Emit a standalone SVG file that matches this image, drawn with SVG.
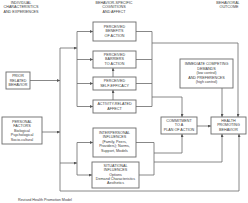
<svg xmlns="http://www.w3.org/2000/svg" width="248" height="203" viewBox="0 0 248 203">
<defs>
<style>
.box{fill:#fff;stroke:#6a6a6a;stroke-width:0.9}
.t{font-family:"Liberation Sans",Arial,sans-serif;font-size:3.7px;fill:#3a3a3a;text-anchor:middle}
.c{fill:none;stroke:#6a6a6a;stroke-width:0.8}
</style>
<marker id="a" viewBox="0 0 6 6" refX="6" refY="3" markerWidth="3" markerHeight="3" markerUnits="userSpaceOnUse" orient="auto"><path d="M0,0L6,3L0,6z" fill="#555"/></marker>
</defs>
<rect width="248" height="203" fill="#fff"/>
<g id="headers">
<text class="t" x="21" y="4">INDIVIDUAL</text>
<text class="t" x="21" y="8.3">CHARACTERISTICS</text>
<text class="t" x="21" y="12.6">AND EXPERIENCES</text>
<text class="t" x="114" y="4">BEHAVIOR-SPECIFIC</text>
<text class="t" x="114" y="8.3">COGNITIONS</text>
<text class="t" x="114" y="12.6">AND AFFECT</text>
<text class="t" x="228" y="4">BEHAVIORAL</text>
<text class="t" x="229" y="8.3">OUTCOME</text>
</g>
<g id="connectors">
<path class="c" d="M30,80.5H60" marker-end="url(#a)"/>
<path class="c" d="M42,132H60" marker-end="url(#a)"/>
<path class="c" d="M60,48V191H239V134" marker-end="url(#a)"/>
<path class="c" d="M60,48H77" marker-end="url(#a)"/>
<path class="c" d="M77,31.5V106.5"/>
<path class="c" d="M77,31.5H93" marker-end="url(#a)"/>
<path class="c" d="M77,59.5H93" marker-end="url(#a)"/>
<path class="c" d="M77,83.5H93" marker-end="url(#a)"/>
<path class="c" d="M77,106.5H93" marker-end="url(#a)"/>
<path class="c" d="M136,31.5H152M136,59.5H152M136,83.5H152M136,106.5H152M152,31.5V106.5"/>
<path class="c" d="M152,43H238V117" marker-end="url(#a)"/>
<path class="c" d="M152,97H182V117" marker-end="url(#a)"/>
<path class="c" d="M113,77V68" marker-end="url(#a)"/>
<path class="c" d="M113,100V90" marker-end="url(#a)"/>
<path class="c" d="M222,88V117" marker-end="url(#a)"/>
<path class="c" d="M197,126H211" marker-end="url(#a)"/>
<path class="c" d="M60,163H77" marker-end="url(#a)"/>
<path class="c" d="M77,142.5V175"/>
<path class="c" d="M77,142.5H93" marker-end="url(#a)"/>
<path class="c" d="M77,175H92" marker-end="url(#a)"/>
<path class="c" d="M136,142.5H154M139,175H154M154,142.5V175"/>
<path class="c" d="M154,153H182V134" marker-end="url(#a)"/>
<path class="c" d="M154,162H222V134" marker-end="url(#a)"/>
</g>
<g id="prior">
<rect class="box" x="6" y="72" width="24" height="17"/>
<text class="t" x="18" y="77">PRIOR</text>
<text class="t" x="18" y="81.5">RELATED</text>
<text class="t" x="18" y="86">BEHAVIOR</text>
</g>
<g id="personal">
<rect class="box" x="2" y="117" width="40" height="27"/>
<text class="t" x="22" y="122.5">PERSONAL</text>
<text class="t" x="22" y="127">FACTORS</text>
<text class="t" x="22" y="131.5">Biological</text>
<text class="t" x="22" y="136">Psychological</text>
<text class="t" x="22" y="140.5">Socio-cultural</text>
</g>
<g id="benefits">
<rect class="box" x="93" y="22" width="43" height="19"/>
<text class="t" x="114.5" y="27.5">PERCEIVED</text>
<text class="t" x="114.5" y="32">BENEFITS</text>
<text class="t" x="114.5" y="36.5">OF ACTION</text>
</g>
<g id="barriers">
<rect class="box" x="93" y="51" width="43" height="17"/>
<text class="t" x="114.5" y="55.5">PERCEIVED</text>
<text class="t" x="114.5" y="60">BARRIERS</text>
<text class="t" x="114.5" y="64.5">TO ACTION</text>
</g>
<g id="selfefficacy">
<rect class="box" x="93" y="77" width="43" height="13"/>
<text class="t" x="114.5" y="82.3">PERCEIVED</text>
<text class="t" x="114.5" y="86.8">SELF-EFFICACY</text>
</g>
<g id="affect">
<rect class="box" x="93" y="100" width="43" height="13"/>
<text class="t" x="114.5" y="105.3">ACTIVITY-RELATED</text>
<text class="t" x="114.5" y="109.8">AFFECT</text>
</g>
<g id="interpersonal">
<rect class="box" x="93" y="128" width="43" height="29"/>
<text class="t" x="114.5" y="133.5">INTERPERSONAL</text>
<text class="t" x="114.5" y="138">INFLUENCES</text>
<text class="t" x="114.5" y="142.5">(Family, Peers,</text>
<text class="t" x="114.5" y="147">Providers); Norms,</text>
<text class="t" x="114.5" y="151.5">Support, Models</text>
</g>
<g id="situational">
<rect class="box" x="92" y="162" width="47" height="26"/>
<text class="t" x="115.5" y="167">SITUATIONAL</text>
<text class="t" x="115.5" y="171.3">INFLUENCES</text>
<text class="t" x="115.5" y="175.6">Options</text>
<text class="t" x="115.5" y="179.9">Demand Characteristics</text>
<text class="t" x="115.5" y="184.2">Aesthetics</text>
</g>
<g id="demands">
<rect class="box" x="180" y="59" width="53" height="29"/>
<text class="t" x="206.5" y="65">IMMEDIATE COMPETING</text>
<text class="t" x="206.5" y="69.5">DEMANDS</text>
<text class="t" x="206.5" y="74">(low control)</text>
<text class="t" x="206.5" y="78.5">AND PREFERENCES</text>
<text class="t" x="206.5" y="83">(high control)</text>
</g>
<g id="commitment">
<rect class="box" x="161" y="117" width="36" height="17"/>
<text class="t" x="179" y="121.7">COMMITMENT</text>
<text class="t" x="179" y="126.2">TO A</text>
<text class="t" x="179" y="130.7">PLAN OF ACTION</text>
</g>
<g id="health">
<rect class="box" x="211" y="117" width="35" height="17"/>
<text class="t" x="228.5" y="121.7">HEALTH</text>
<text class="t" x="228.5" y="126.2">PROMOTING</text>
<text class="t" x="228.5" y="130.7">BEHAVIOR</text>
</g>
<g id="caption">
<text class="t" x="18" y="201" style="text-anchor:start">Revised Health Promotion Model</text>
</g>
</svg>
